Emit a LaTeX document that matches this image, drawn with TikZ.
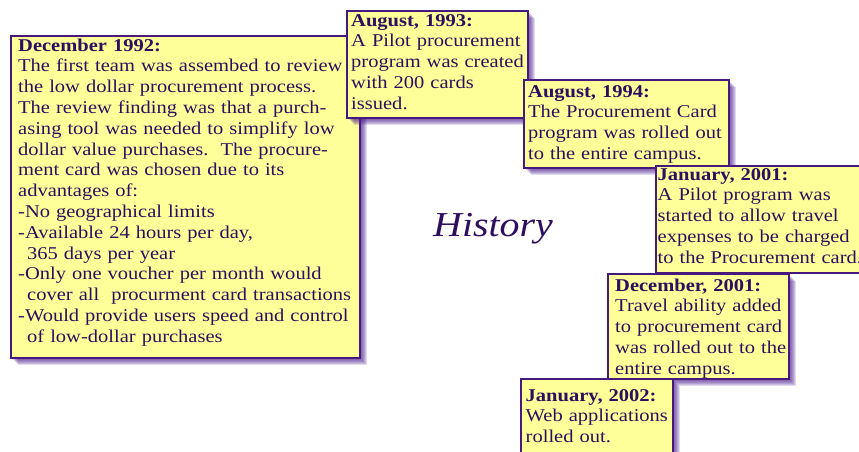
\documentclass[tikz,border=0pt]{standalone}
\usepackage{fontspec}
\newfontfamily\boxfont[FakeStretch=1.14]{Liberation Serif}
\usetikzlibrary{calc}
\definecolor{fillc}{RGB}{255,255,153}
\definecolor{linec}{RGB}{70,25,125}
\definecolor{txtc}{RGB}{45,15,95}
\definecolor{shadc}{RGB}{80,35,145}
\newcommand{\dropshadow}[4]{%
  \foreach \d in {1,...,8}{\fill[shadc, opacity=0.17] (#1+\d,#2+\d) rectangle (#3+\d,#4+\d);}}
\tikzset{
  card/.style={draw=linec, line width=1.6pt, fill=fillc, inner sep=0pt, anchor=north west},
  cardtext/.style={inner sep=0pt, anchor=base west, text width=420pt, align=left, text=txtc,
    font=\boxfont\fontsize{18}{20.8}\selectfont},
  title/.style={inner sep=0pt, anchor=base west, text=txtc,
    font=\boxfont\itshape\fontsize{35}{40}\selectfont}
}
\begin{document}
\begin{tikzpicture}[x=1pt,y=-1pt]
\clip (0,0) rectangle (859,451);
\fill[white] (0,0) rectangle (859,451);
% box 1
\dropshadow{10}{35}{359}{357}
\node[card, minimum width=349pt, minimum height=322pt] (b1) at (10,35) {};
\node[cardtext, xshift=8pt, yshift=-16pt] (t1) at (b1.north west) {\textbf{December 1992:}\\
The first team was assembed to review\\
the low dollar procurement process.\\
The review finding was that a purch-\\
asing tool was needed to simplify low\\
dollar value purchases.\ \ The procure-\\
ment card was chosen due to its\\
advantages of:\\
-No geographical limits\\
-Available 24 hours per day,\\
\hspace*{9pt}365 days per year\\
-Only one voucher per month would\\
\hspace*{9pt}cover all\ \ procurment card transactions\\
-Would provide users speed and control\\
\hspace*{9pt}of low-dollar purchases};
% box 2
\dropshadow{346}{10}{527}{117}
\node[card, minimum width=181pt, minimum height=107pt] (b2) at (346,10) {};
\node[cardtext, xshift=5pt, yshift=-16pt] (t2) at (b2.north west) {\textbf{August, 1993:}\\
A Pilot procurement\\
program was created\\
with 200 cards\\
issued.};
% box 3
\dropshadow{523}{79}{728}{167}
\node[card, minimum width=205pt, minimum height=88pt] (b3) at (523,79) {};
\node[cardtext, xshift=5pt, yshift=-18pt] (t3) at (b3.north west) {\textbf{August, 1994:}\\
The Procurement Card\\
program was rolled out\\
to the entire campus.};
% box 4
\node[card, minimum width=215pt, minimum height=107pt] (b4) at (655,165) {};
\node[cardtext, xshift=2.5pt, yshift=-15pt] (t4) at (b4.north west) {\textbf{January, 2001:}\\
A Pilot program was\\
started to allow travel\\
expenses to be charged\\
to the Procurement card.};
% box 5
\dropshadow{607}{273}{788}{378}
\node[card, minimum width=181pt, minimum height=105pt] (b5) at (607,273) {};
\node[cardtext, xshift=8pt, yshift=-18pt] (t5) at (b5.north west) {\textbf{December, 2001:}\\
Travel ability added\\
to procurement card\\
was rolled out to the\\
entire campus.};
% box 6
\dropshadow{520}{378}{672}{468}
\node[card, minimum width=152pt, minimum height=90pt] (b6) at (520,378) {};
\node[cardtext, xshift=5.5pt, yshift=-23pt] (t6) at (b6.north west) {\textbf{January, 2002:}\\
Web applications\\
rolled out.};
% title
\node[title] (hist) at (433,236.7) {History};
\end{tikzpicture}
\end{document}
